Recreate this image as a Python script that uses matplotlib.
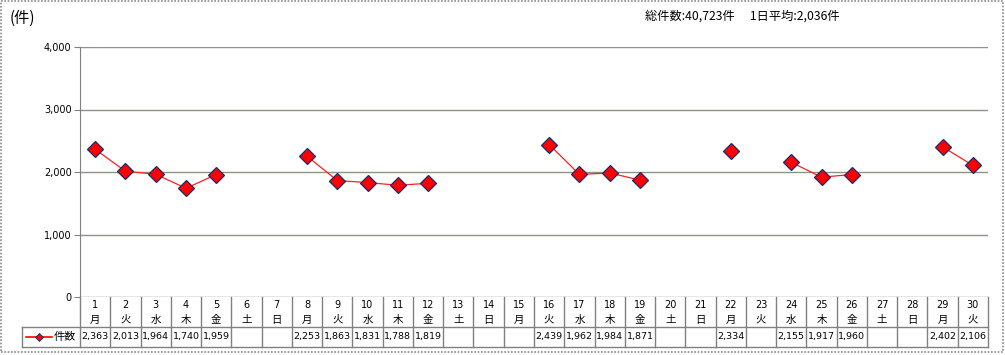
import numpy as np
import matplotlib
matplotlib.use("Agg")
import matplotlib.pyplot as plt
from matplotlib.lines import Line2D
from matplotlib.patches import Rectangle

plt.rcParams['font.family'] = ['Noto Sans CJK JP', 'DejaVu Sans']

days = list(range(1, 31))
weekdays = ['月', '火', '水', '木', '金', '土', '日',
            '月', '火', '水', '木', '金', '土', '日',
            '月', '火', '水', '木', '金', '土', '日',
            '月', '火', '水', '木', '金', '土', '日',
            '月', '火']
counts = [2363, 2013, 1964, 1740, 1959, None, None,
          2253, 1863, 1831, 1788, 1819, None, None,
          None, 2439, 1962, 1984, 1871, None, None,
          2334, None, 2155, 1917, 1960, None, None,
          2402, 2106]
yticks = [0, 1000, 2000, 3000, 4000]
series_name = '件数'
summary = '総件数:40,723件　 1日平均:2,036件'
unit = '(件)'

W, H = 1005, 355
fig = plt.figure(figsize=(W / 100, H / 100), dpi=100)
fig.patch.set_facecolor('white')

# outer dotted frame
fig.add_artist(Rectangle((1 / W, 3 / H), 1002 / W, 351 / H, transform=fig.transFigure,
                         fill=False, edgecolor='#8a8a8a', lw=1.2, ls=(0, (1, 1))))

left, right, top, bottom = 80, 988, 47, 297
ax = fig.add_axes([left / W, (H - bottom) / H, (right - left) / W, (bottom - top) / H])

y = np.array([np.nan if v is None else v for v in counts], dtype=float)
ax.plot(days, y, color='#ff2020', lw=0.9, marker='D', markersize=8.5,
        markerfacecolor='#ff0000', markeredgecolor='#1c2a6e', markeredgewidth=0.9, zorder=3)

ax.set_xlim(0.5, 30.5)
ax.set_ylim(0, 4000)
ax.set_yticks(yticks)
ax.set_yticklabels([f'{v:,}' for v in yticks], fontsize=7, family=['DejaVu Sans'])
ax.tick_params(axis='y', length=4, color='#808080', pad=2)
ax.set_xticks([])
for v in yticks[1:]:
    ax.axhline(v, color='#869680', lw=1.0, zorder=1)
for s in ['top', 'right', 'bottom']:
    ax.spines[s].set_visible(False)
ax.spines['left'].set_color('#808080')
ax.axhline(0, color='#808080', lw=1, zorder=1)

# data table below the axes
colw = (right - left) / 30


def px2x(px):
    return 0.5 + (px - left) / colw


ph = bottom - top
r1 = -30 / ph
r2 = -50 / ph
x0 = px2x(22)
tc = '#808080'
tr = ax.get_xaxis_transform()
kw = dict(color=tc, lw=1, clip_on=False, transform=tr)
ax.add_line(Line2D([x0, 30.5], [r1, r1], **kw))
ax.add_line(Line2D([x0, 30.5], [r2, r2], **kw))
ax.add_line(Line2D([x0, x0], [r1, r2], **kw))
for i in range(31):
    ax.add_line(Line2D([i + 0.5, i + 0.5], [0, r2], **kw))

for d, wd, v in zip(days, weekdays, counts):
    ax.text(d, -8 / ph, str(d), ha='center', va='center', fontsize=7, transform=tr,
            family=['DejaVu Sans'])
    ax.text(d, -23 / ph, wd, ha='center', va='center', fontsize=7.5, transform=tr)
    if v is not None:
        ax.text(d, -40 / ph, f'{v:,}', ha='center', va='center', fontsize=6.8, transform=tr,
                family=['DejaVu Sans'])

# legend key in table
ax.add_line(Line2D([px2x(26), px2x(52)], [-40 / ph, -40 / ph], color='#ff0000', lw=1.2,
                   clip_on=False, transform=tr))
ax.add_line(Line2D([px2x(39)], [-40 / ph], color='#ff0000', marker='D', markersize=4.5,
                   markerfacecolor='#ff0000', markeredgecolor='#1c2a6e', markeredgewidth=0.6,
                   clip_on=False, transform=tr))
ax.text(px2x(54), -40 / ph, series_name, ha='left', va='center', fontsize=8, transform=tr)

fig.text(10 / W, 1 - 18 / H, unit, fontsize=11, ha='left', va='center')
fig.text(645 / W, 1 - 16 / H, summary, fontsize=8.8, ha='left', va='center')

fig.savefig('out.png', dpi=100)
